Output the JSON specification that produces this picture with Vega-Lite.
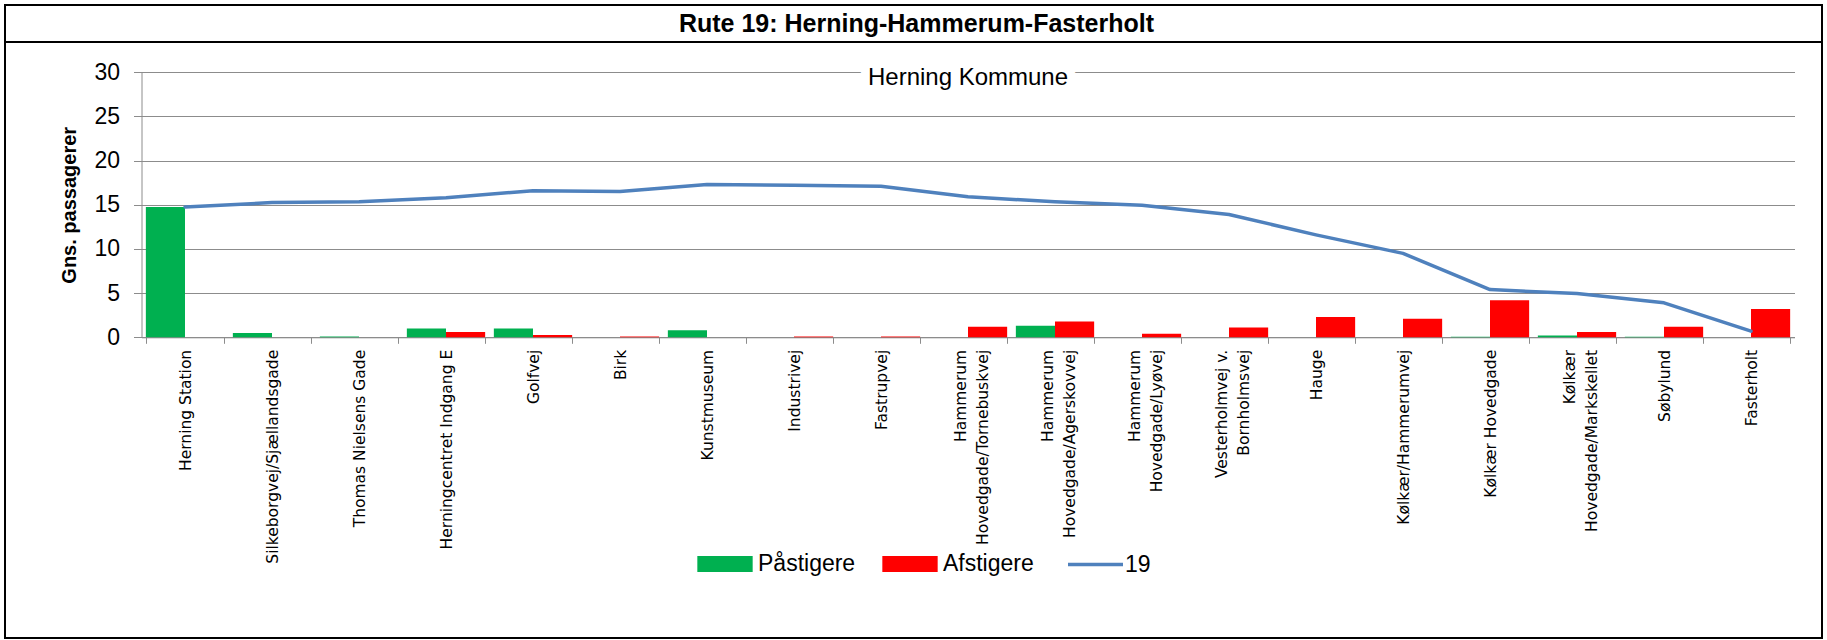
{
  "$schema": "https://vega.github.io/schema/vega-lite/v6.json",
  "padding": {"left": 4, "top": 4, "right": 4, "bottom": 1},
  "background": "white",
  "spacing": 0,
  "bounds": "flush",
  "config": {
    "view": {"stroke": "black", "strokeWidth": 2},
    "font": "Liberation Sans"
  },
  "datasets": {
    "stations": [
      {"station": "Herning Station", "Påstigere": 14.75, "Afstigere": 0, "passagerer": 14.75},
      {"station": "Silkeborgvej/Sjællandsgade", "Påstigere": 0.5, "Afstigere": 0, "passagerer": 15.25},
      {"station": "Thomas Nielsens Gade", "Påstigere": 0.1, "Afstigere": 0, "passagerer": 15.35},
      {"station": "Herningcentret Indgang E", "Påstigere": 1.0, "Afstigere": 0.6, "passagerer": 15.8},
      {"station": "Golfvej", "Påstigere": 1.0, "Afstigere": 0.25, "passagerer": 16.6},
      {"station": "Birk", "Påstigere": 0, "Afstigere": 0.1, "passagerer": 16.5},
      {"station": "Kunstmuseum", "Påstigere": 0.8, "Afstigere": 0, "passagerer": 17.3},
      {"station": "Industrivej", "Påstigere": 0, "Afstigere": 0.1, "passagerer": 17.2},
      {"station": "Fastrupvej", "Påstigere": 0, "Afstigere": 0.1, "passagerer": 17.1},
      {"station": "Hammerum\nHovedgade/Tornebuskvej", "Påstigere": 0, "Afstigere": 1.2, "passagerer": 15.9},
      {"station": "Hammerum\nHovedgade/Agerskovvej", "Påstigere": 1.3, "Afstigere": 1.8, "passagerer": 15.35},
      {"station": "Hammerum\nHovedgade/Lyøvej", "Påstigere": 0, "Afstigere": 0.4, "passagerer": 14.95},
      {"station": "Vesterholmvej v.\nBornholmsvej", "Påstigere": 0, "Afstigere": 1.1, "passagerer": 13.9},
      {"station": "Hauge", "Påstigere": 0, "Afstigere": 2.3, "passagerer": 11.6},
      {"station": "Kølkær/Hammerumvej", "Påstigere": 0, "Afstigere": 2.1, "passagerer": 9.5},
      {"station": "Kølkær Hovedgade", "Påstigere": 0.05, "Afstigere": 4.2, "passagerer": 5.4},
      {"station": "Kølkær\nHovedgade/Markskellet", "Påstigere": 0.2, "Afstigere": 0.6, "passagerer": 4.95},
      {"station": "Søbylund", "Påstigere": 0.05, "Afstigere": 1.2, "passagerer": 3.9},
      {"station": "Fasterholt", "Påstigere": 0, "Afstigere": 3.2, "passagerer": 0.7}
    ]
  },
  "vconcat": [
    {
      "width": 1817,
      "height": 37,
      "view": {"stroke": "black", "strokeWidth": 2},
      "data": {"values": [{"title": "Rute 19: Herning-Hammerum-Fasterholt", "pos": 0.5}]},
      "mark": {"type": "text", "font": "Liberation Sans", "fontSize": 25, "fontWeight": "bold", "color": "black", "baseline": "middle", "align": "center", "dx": 3},
      "encoding": {
        "x": {"field": "pos", "type": "quantitative", "scale": {"domain": [0, 1]}, "axis": null},
        "y": {"field": "pos", "type": "quantitative", "scale": {"domain": [0, 1]}, "axis": null},
        "text": {"field": "title", "type": "nominal"}
      }
    },
    {
      "width": 1817,
      "height": 596,
      "view": {"stroke": "black", "strokeWidth": 2},
      "data": {"name": "stations"},
      "layer": [
        {
          "transform": [{"fold": ["Påstigere", "Afstigere"], "as": ["type", "value"]}],
          "mark": {"type": "bar"},
          "encoding": {
            "x": {
              "field": "station", "type": "nominal", "sort": null, "title": null,
              "scale": {"range": [136.5, 1789.5], "paddingInner": 0.1, "paddingOuter": 0.05},
              "axis": {
                "offset": -300.7, "tickBand": "extent", "grid": false,
                "domainColor": "#8C8C8C", "tickColor": "#8C8C8C", "tickSize": 6,
                "labelAngle": -90, "labelFont": "DejaVu Sans", "labelColor": "black",
                "labelFontSize": {"condition": {"test": "!datum.value", "value": 0}, "value": 15.5},
                "labelOffset": {"condition": {"test": "datum.value && indexof(datum.value, '\\n') >= 0", "value": -8}, "value": 0},
                "labelPadding": 6, "labelLimit": 0, "labelOverlap": false, "labelLineHeight": 22,
                "labelExpr": "datum.value ? split(datum.value, '\\n') : ''"
              }
            },
            "xOffset": {"field": "type", "type": "nominal", "sort": ["Påstigere", "Afstigere"], "scale": {"paddingInner": 0, "paddingOuter": 0}},
            "y": {
              "field": "value", "type": "quantitative", "title": "Gns. passagerer",
              "scale": {"domain": [0, 30], "range": [295.3, 30.3], "nice": false},
              "axis": {
                "values": [0, 5, 10, 15, 20, 25, 30], "offset": -136.5, "grid": true,
                "gridColor": "#8C8C8C", "gridWidth": 1, "domainColor": "#8C8C8C", "tickColor": "#8C8C8C", "tickSize": 8,
                "labelFont": "Liberation Sans", "labelFontSize": 23, "labelColor": "black", "labelPadding": 14,
                "titleFont": "Liberation Sans", "titleFontSize": 20, "titleFontWeight": "bold", "titleColor": "black", "titlePadding": 14
              }
            },
            "fill": {
              "field": "type", "type": "nominal",
              "scale": {"domain": ["Påstigere", "Afstigere"], "range": ["#00B050", "#FF0000"]},
              "legend": {
                "orient": "none", "legendX": 704, "legendY": 543, "direction": "horizontal", "title": null,
                "symbolType": "M-1.75,-0.5H1.75V0.5H-1.75Z", "symbolSize": 1000, "symbolStrokeWidth": 0,
                "labelFont": "Liberation Sans", "labelFontSize": 23, "labelColor": "black", "labelOffset": 17,
                "columnPadding": 26, "padding": 0
              }
            }
          }
        },
        {
          "mark": {"type": "line", "strokeWidth": 3.5, "strokeCap": "round", "strokeJoin": "round"},
          "encoding": {
            "x": {"field": "station", "type": "nominal", "sort": null, "title": null},
            "y": {"field": "passagerer", "type": "quantitative", "title": "Gns. passagerer"},
            "stroke": {
              "datum": "19",
              "scale": {"domain": ["19"], "range": ["#4F81BD"]},
              "legend": {
                "orient": "none", "legendX": 1061, "legendY": 530, "direction": "horizontal", "title": null,
                "symbolType": "stroke", "symbolSize": 3025, "symbolStrokeWidth": 3.5,
                "labelFont": "Liberation Sans", "labelFontSize": 23, "labelColor": "black", "labelOffset": 0, "padding": 0
              }
            }
          }
        },
        {
          "data": {"values": [{"label": "Herning Kommune"}]},
          "mark": {"type": "text", "font": "Liberation Sans", "fontSize": 24, "baseline": "middle", "align": "center", "dy": 6, "fill": "white", "stroke": "white", "strokeWidth": 18, "strokeJoin": "round"},
          "encoding": {
            "x": {"datum": "Hammerum\nHovedgade/Tornebuskvej", "type": "nominal"},
            "y": {"datum": 30, "type": "quantitative"},
            "text": {"field": "label", "type": "nominal"}
          }
        },
        {
          "data": {"values": [{"label": "Herning Kommune"}]},
          "mark": {"type": "text", "font": "Liberation Sans", "fontSize": 24, "baseline": "middle", "align": "center", "dy": 6, "fill": "black"},
          "encoding": {
            "x": {"datum": "Hammerum\nHovedgade/Tornebuskvej", "type": "nominal"},
            "y": {"datum": 30, "type": "quantitative"},
            "text": {"field": "label", "type": "nominal"}
          }
        }
      ]
    }
  ]
}
